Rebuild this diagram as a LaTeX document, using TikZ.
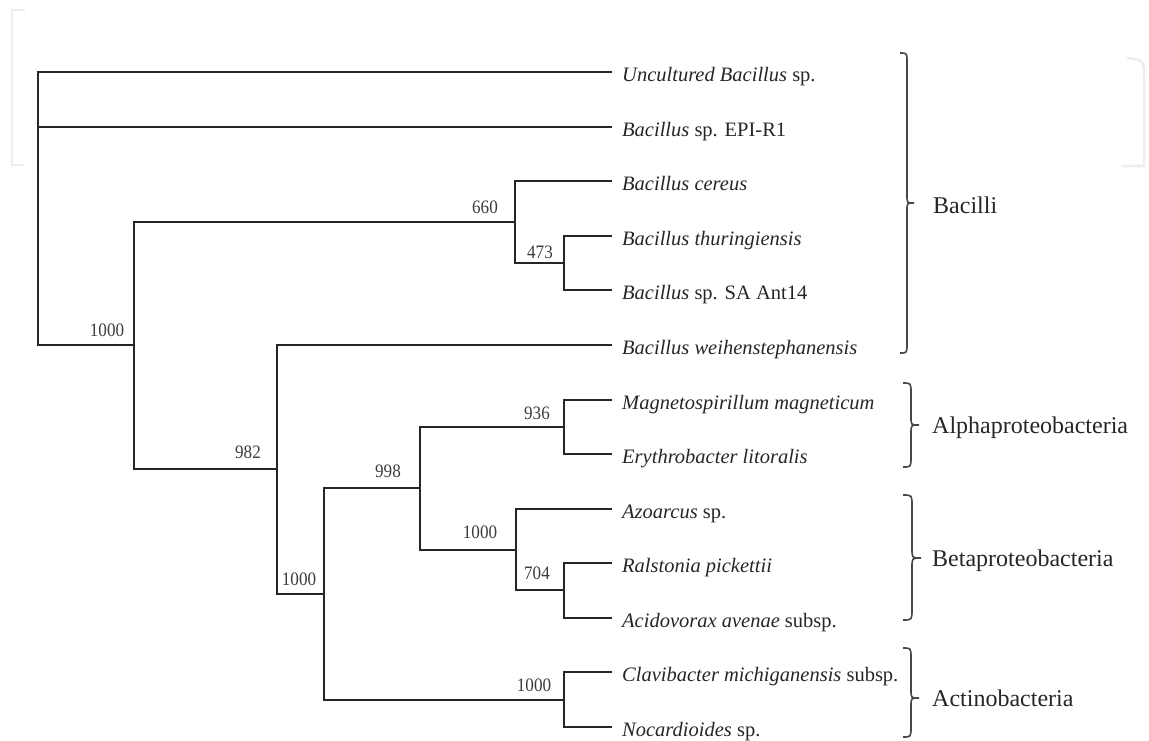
\documentclass[tikz,border=0pt]{standalone}
\usepackage{fontspec}
\setmainfont{Liberation Serif}
\newfontfamily\bootfont[FakeStretch=0.9]{Liberation Serif}
\definecolor{ink}{HTML}{262626}
\definecolor{faint}{HTML}{EDEDED}
\newcommand\grpbrace[5]{%
  \draw[bracestyle] (#1-#5,#2) .. controls (#1,#2) .. (#1,#2+#5+2) -- (#1,#4-#5)
    .. controls (#1,#4) .. (#1+#5,#4) .. controls (#1,#4) .. (#1,#4+#5)
    -- (#1,#3-#5-2) .. controls (#1,#3) .. (#1-#5,#3);}
\begin{document}
\begin{tikzpicture}[x=1pt,y=-1pt,
  branch/.style={draw=ink,line width=2pt},
  bracestyle/.style={draw=ink!85,line width=1.6pt},
  leaf/.style={anchor=west,inner xsep=10pt,inner ysep=0pt,text height=18pt,text depth=0pt,
    text=ink,font=\fontsize{20.5}{24}\selectfont},
  boot/.style={inner sep=0pt,text height=13pt,text depth=0pt,text=ink!90,
    font=\bootfont\fontsize{19}{22}\selectfont},
  grp/.style={anchor=west,inner sep=0pt,text height=16pt,text depth=0pt,text=ink,
    font=\fontsize{24}{28}\selectfont}]
\useasboundingbox (0,0) rectangle (1149,740);
% faint background frame pieces
\draw[faint,line width=2.5pt] (25,10) -- (12,10) -- (12,165) -- (24,165);
\draw[faint,line width=2.5pt] (1127,58) .. controls (1144,60) .. (1144,80) -- (1144,166) -- (1121,166);
% leaves
\node[leaf] (l1) at (612,72) {\textit{Uncultured Bacillus} sp.};
\node[leaf] (l2) at (612,127) {\textit{Bacillus} sp. EPI-R1};
\node[leaf] (l3) at (612,181) {\textit{Bacillus cereus}};
\node[leaf] (l4) at (612,236) {\textit{Bacillus thuringiensis}};
\node[leaf] (l5) at (612,290) {\textit{Bacillus} sp. SA Ant14};
\node[leaf] (l6) at (612,345) {\textit{Bacillus weihenstephanensis}};
\node[leaf] (l7) at (612,400) {\textit{Magnetospirillum magneticum}};
\node[leaf] (l8) at (612,454) {\textit{Erythrobacter litoralis}};
\node[leaf] (l9) at (612,509) {\textit{Azoarcus} sp.};
\node[leaf] (l10) at (612,563) {\textit{Ralstonia pickettii}};
\node[leaf] (l11) at (612,618) {\textit{Acidovorax avenae} subsp.};
\node[leaf] (l12) at (612,672) {\textit{Clavibacter michiganensis} subsp.};
\node[leaf] (l13) at (612,727) {\textit{Nocardioides} sp.};
% internal nodes
\coordinate (r) at (38,208);
\coordinate (nA) at (134,345);
\coordinate (n660) at (515,222);
\coordinate (n473) at (564,263);
\coordinate (n982) at (277,469);
\coordinate (nB) at (324,594);
\coordinate (n998) at (420,488);
\coordinate (n936) at (564,427);
\coordinate (nBeta) at (516,550);
\coordinate (n704) at (564,590);
\coordinate (nAct) at (564,700);
% branches
\draw[branch] (r) |- (l1.west);
\draw[branch] (r) |- (l2.west);
\draw[branch] (r) |- (nA);
\draw[branch] (nA) |- (n660);
\draw[branch] (nA) |- (n982);
\draw[branch] (n660) |- (l3.west);
\draw[branch] (n660) |- (n473);
\draw[branch] (n473) |- (l4.west);
\draw[branch] (n473) |- (l5.west);
\draw[branch] (n982) |- (l6.west);
\draw[branch] (n982) |- (nB);
\draw[branch] (nB) |- (n998);
\draw[branch] (nB) |- (nAct);
\draw[branch] (n998) |- (n936);
\draw[branch] (n998) |- (nBeta);
\draw[branch] (n936) |- (l7.west);
\draw[branch] (n936) |- (l8.west);
\draw[branch] (nBeta) |- (l9.west);
\draw[branch] (nBeta) |- (n704);
\draw[branch] (n704) |- (l10.west);
\draw[branch] (n704) |- (l11.west);
\draw[branch] (nAct) |- (l12.west);
\draw[branch] (nAct) |- (l13.west);
% bootstrap values
\node[boot] (bA) at (107,330) {1000};
\node[boot] (b660) at (485,207) {660};
\node[boot] (b473) at (540,252) {473};
\node[boot] (b982) at (248,452) {982};
\node[boot] (bB) at (299,579) {1000};
\node[boot] (b998) at (388,471) {998};
\node[boot] (b936) at (537,413) {936};
\node[boot] (bBeta) at (480,532) {1000};
\node[boot] (b704) at (537,573) {704};
\node[boot] (bAct) at (534,685) {1000};
% group braces and labels
\grpbrace{907}{53}{353}{203}{7}
\grpbrace{911}{383}{467}{425}{8}
\grpbrace{912}{495}{620}{558}{9}
\grpbrace{911}{648}{737}{698}{8}
\node[grp] (gBac) at (933,205) {Bacilli};
\node[grp] (gAlp) at (932,425) {Alphaproteobacteria};
\node[grp] (gBet) at (932,558) {Betaproteobacteria};
\node[grp] (gAct) at (932,698) {Actinobacteria};
\end{tikzpicture}
\end{document}
